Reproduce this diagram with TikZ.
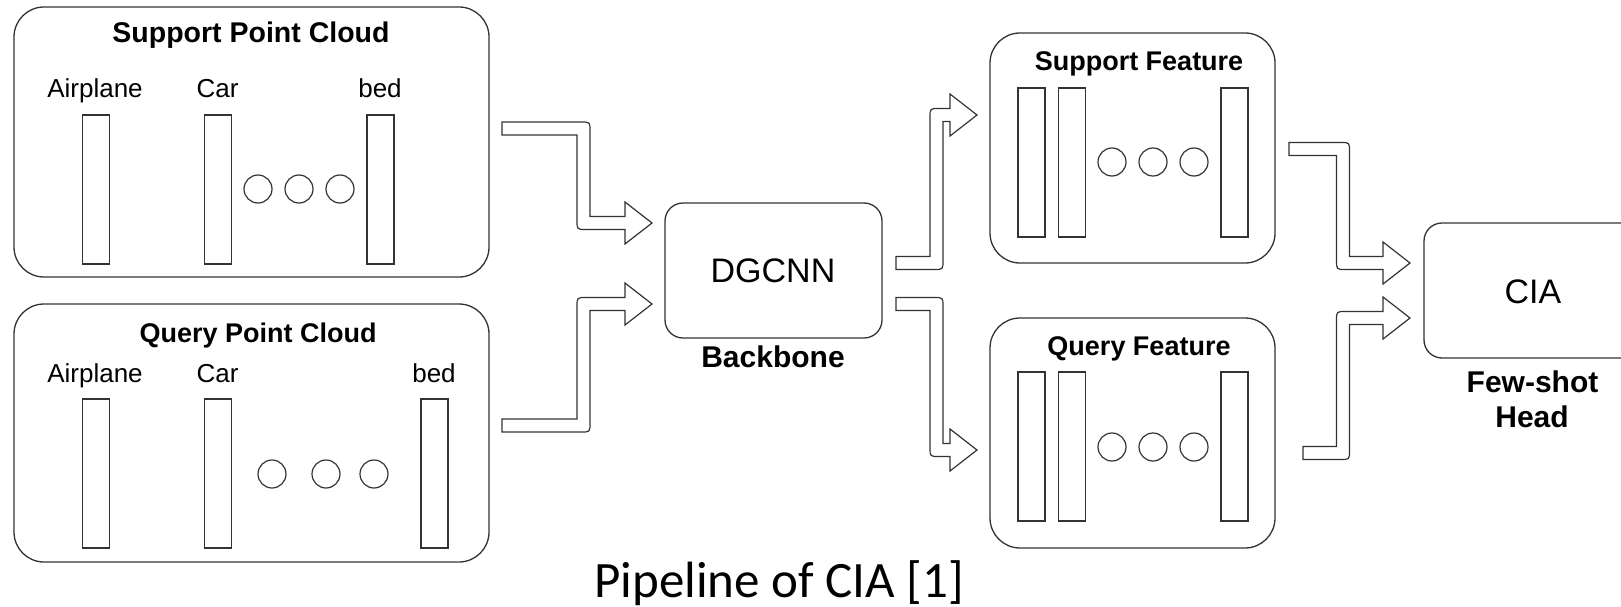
\documentclass[tikz,border=0pt]{standalone}
\usepackage{fontspec}
\setmainfont{Liberation Sans}
\newfontfamily\capfont{Carlito}
\usetikzlibrary{calc}
\tikzset{
  box/.style={draw=black!80, line width=1.3pt, rounded corners=30pt, inner sep=0pt, outer sep=0pt},
  midbox/.style={box, rounded corners=18pt},
  bar/.style={draw=black!80, line width=1.3pt, minimum width=27pt, minimum height=149pt, inner sep=0pt},
  dot/.style={draw=black!80, line width=1.2pt, circle, minimum size=28pt, inner sep=0pt},
  lbl/.style={inner sep=0pt, anchor=base, font=\fontsize{26pt}{30pt}\selectfont},
  ttl/.style={inner sep=0pt, anchor=base, font=\fontsize{27pt}{32pt}\selectfont\bfseries},
  sub/.style={inner sep=0pt, anchor=base, font=\fontsize{30pt}{36pt}\selectfont\bfseries},
  big/.style={inner sep=0pt, anchor=base, font=\fontsize{34pt}{40pt}\selectfont},
  blockarr/.style={draw=black!80, line width=1.2pt, fill=white, line join=miter}
}
% #1 tail coordinate, #2 bend coordinate (x used), #3 tip coordinate, #4 sign (1 = downward, -1 = upward)
\newcommand{\blockarrow}[4]{%
  \draw[blockarr] let \p1=(#1), \p2=(#2), \p3=(#3) in
    ({\x1}, {\y1+(#4)*6.5pt})
    -- ({\x2+6.5pt-9pt}, {\y1+(#4)*6.5pt})
    .. controls ({\x2+6.5pt}, {\y1+(#4)*6.5pt}) .. ({\x2+6.5pt}, {\y1+(#4)*6.5pt-(#4)*9pt})
    -- ({\x2+6.5pt}, {\y3+(#4)*6.5pt})
    -- ({\x3-27pt}, {\y3+(#4)*6.5pt})
    -- ({\x3-27pt}, {\y3+(#4)*21pt})
    -- ({\x3}, {\y3})
    -- ({\x3-27pt}, {\y3-(#4)*21pt})
    -- ({\x3-27pt}, {\y3-(#4)*6.5pt})
    -- ({\x2-6.5pt+9pt}, {\y3-(#4)*6.5pt})
    .. controls ({\x2-6.5pt}, {\y3-(#4)*6.5pt}) .. ({\x2-6.5pt}, {\y3-(#4)*6.5pt+(#4)*9pt})
    -- ({\x2-6.5pt}, {\y1-(#4)*6.5pt})
    -- ({\x1}, {\y1-(#4)*6.5pt})
    -- cycle;}
\begin{document}
\begin{tikzpicture}[x=1pt,y=-1pt]
\useasboundingbox (0,0) rectangle (1621,607);
\fill[white] (0,0) rectangle (1621,607);
\clip (0,0) rectangle (1621,607);

% ---------- Support Point Cloud ----------
\node[box, minimum width=475pt, minimum height=270pt] (spc) at (251.5,142) {};
\node[ttl, font=\fontsize{28.5pt}{32pt}\selectfont\bfseries] (spct) at (251,43) {Support Point Cloud};
\node[lbl] (sla) at (95,98) {Airplane};
\node[lbl] (slc) at (217.5,98) {Car};
\node[lbl] (slb) at (380,98) {bed};
\foreach \n/\xx in {1/96, 2/218, 3/380.5} \node[bar] (sb\n) at (\xx,189.5) {};
\foreach \n/\xx in {1/258, 2/299, 3/340} \node[dot] (sd\n) at (\xx,189) {};

% ---------- Query Point Cloud ----------
\node[box, minimum width=475pt, minimum height=258pt] (qpc) at (251.5,433) {};
\node[ttl] (qpct) at (258,342) {Query Point Cloud};
\node[lbl] (qla) at (95,382) {Airplane};
\node[lbl] (qlc) at (217.5,382) {Car};
\node[lbl] (qlb) at (434,382) {bed};
\foreach \n/\xx in {1/96, 2/218, 3/434.5} \node[bar] (qb\n) at (\xx,473.5) {};
\foreach \n/\xx in {1/272, 2/326, 3/374} \node[dot] (qd\n) at (\xx,474) {};

% ---------- Backbone ----------
\node[midbox, minimum width=217pt, minimum height=135pt] (dgcnn) at (773.5,270.5) {};
\node[big] (dgcnnt) at (773,282) {DGCNN};
\node[sub] (bb) at (773,367) {Backbone};

% ---------- Support Feature ----------
\node[box, minimum width=285pt, minimum height=230pt] (sf) at (1132.5,148) {};
\node[ttl] (sft) at (1139,71) {Support Feature};
\foreach \n/\xx in {1/1031.5, 2/1072, 3/1234.5} \node[bar] (fb\n) at (\xx,162.5) {};
\foreach \n/\xx in {1/1112, 2/1153, 3/1194} \node[dot] (fd\n) at (\xx,162) {};

% ---------- Query Feature ----------
\node[box, minimum width=285pt, minimum height=230pt] (qf) at (1132.5,433) {};
\node[ttl] (qft) at (1139,355) {Query Feature};
\foreach \n/\xx in {1/1031.5, 2/1072, 3/1234.5} \node[bar] (gb\n) at (\xx,446.5) {};
\foreach \n/\xx in {1/1112, 2/1153, 3/1194} \node[dot] (gd\n) at (\xx,447) {};

% ---------- Few-shot head ----------
\node[midbox, minimum width=232pt, minimum height=135pt] (cia) at (1540,290.5) {};
\node[big] (ciat) at (1533,303) {CIA};
\node[sub] (fs1) at (1532.5,392) {Few-shot};
\node[sub] (fs2) at (1532,427.5) {Head};

% ---------- block arrows ----------
\coordinate (a1s) at (502,128.5);  \coordinate (a1b) at (583.5,0);  \coordinate (a1t) at (652,223);
\coordinate (a2s) at (502,425.5);  \coordinate (a2b) at (583.5,0);  \coordinate (a2t) at (652,304);
\coordinate (a3s) at (896,263);    \coordinate (a3b) at (936.5,0);  \coordinate (a3t) at (977,115);
\coordinate (a4s) at (896,304);    \coordinate (a4b) at (936.5,0);  \coordinate (a4t) at (977,450);
\coordinate (a5s) at (1289,149);   \coordinate (a5b) at (1343,0);   \coordinate (a5t) at (1410,263);
\coordinate (a6s) at (1303,453);   \coordinate (a6b) at (1343,0);   \coordinate (a6t) at (1410,318);
\blockarrow{a1s}{a1b}{a1t}{1}
\blockarrow{a2s}{a2b}{a2t}{-1}
\blockarrow{a3s}{a3b}{a3t}{-1}
\blockarrow{a4s}{a4b}{a4t}{1}
\blockarrow{a5s}{a5b}{a5t}{1}
\blockarrow{a6s}{a6b}{a6t}{-1}

% ---------- caption ----------
\node[anchor=base west, inner sep=0pt, font=\capfont\fontsize{51pt}{60pt}\selectfont] (cap) at (594,597) {Pipeline of CIA [1]};
\end{tikzpicture}
\end{document}
